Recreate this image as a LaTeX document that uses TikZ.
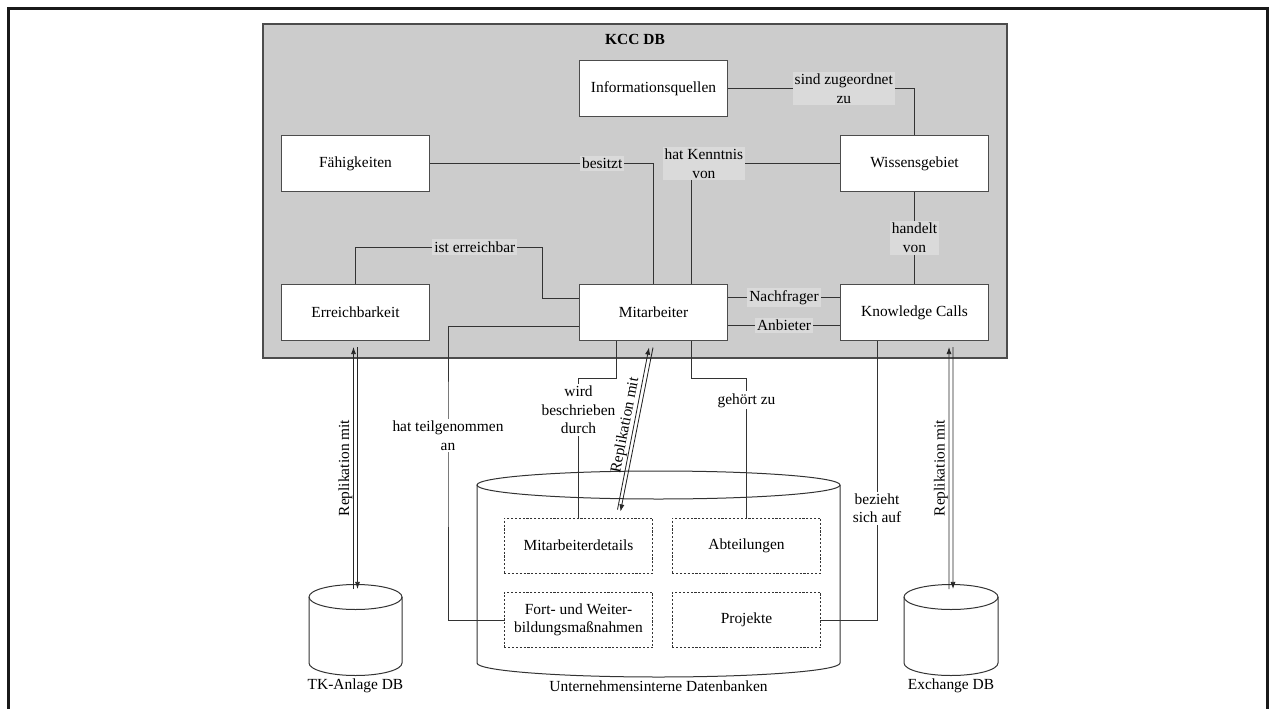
\documentclass[tikz,border=0pt]{standalone}
\usepackage{fontspec}
\setmainfont{Liberation Serif}
\usetikzlibrary{positioning, calc, arrows.meta}

\definecolor{kccgrey}{gray}{0.80}
\definecolor{lblgrey}{gray}{0.855}

\tikzset{
	entity/.style={draw=black!70, line width=0.9pt, rectangle, fill=white, minimum width=104pt, minimum height=39pt, inner sep=2pt},
	dbtable/.style={draw=black!80, line width=0.6pt, dash pattern=on 1.5pt off 1.2pt, rectangle, minimum width=104pt, minimum height=38.5pt, align=center, inner sep=2pt},
	kccbox/.style={draw=black!70, line width=1pt, rectangle, fill=kccgrey, minimum width=520.8pt, minimum height=233.8pt},
	% labels sitting on the connectors
	lbl/.style={fill=lblgrey, inner sep=1.5pt, align=center},
	wlbl/.style={fill=white, inner sep=1.5pt, align=center},
	repl/.style={draw=black!85, line width=0.6pt, ->, >={Latex[length=5pt,width=3.6pt]}},
	repllbl/.style={anchor=south, inner sep=0.5pt},
}

% cylinder: centre x, x radius, top y, bottom y, y radius
\newcommand{\dbcylinder}[5]{%
	\draw[black!80, line width=0.7pt] (#1-#2,#3) -- (#1-#2,#4) arc[start angle=180, end angle=360, x radius=#2, y radius=#5] -- (#1+#2,#3);
	\draw[black!80, line width=0.7pt] (#1,#3) ellipse [x radius=#2, y radius=#5];
}

\begin{document}
\begin{tikzpicture}[x=0.7pt, y=0.7pt, font=\rmfamily\fontsize{10.8}{13}\selectfont]
	\useasboundingbox (0,0) rectangle (1270,708);
	\draw[black!90, line width=2.1pt] (8.5,-10) -- (8.5,699.5) -- (1267.5,699.5) -- (1267.5,-10);

	\node (kccdb) [kccbox] at (635,517) {};
	\node (kcctitle) [font=\rmfamily\bfseries\fontsize{10.8}{13}\selectfont, below=4pt of kccdb.north] {KCC DB};

	\node (info) [entity] at (653.5,619.5) {Informationsquellen};
	\node (faehig) [entity] at (355.5,544.5) {Fähigkeiten};
	\node (wissen) [entity] at (914.5,544.5) {Wissensgebiet};
	\node (erreich) [entity] at (355.5,395.5) {Erreichbarkeit};
	\node (mitarb) [entity] at (653.5,395.5) {Mitarbeiter};
	\node (kcalls) [entity] at (914.5,395.5) {Knowledge Calls};

	% databases
	\dbcylinder{355.5}{46.5}{111}{45}{12.5}
	\dbcylinder{658.5}{181.5}{223}{45}{14}
	\dbcylinder{951}{47}{111}{45}{12.5}
	\coordinate (tkdb) at (355.5,111);
	\coordinate (exdb) at (951,111);
	\node (tkname) at (355.5,22) {TK-Anlage DB};
	\node (intname) at (658.5,22) {Unternehmensinterne Datenbanken};
	\node (exname) at (951,22) {Exchange DB};

	\node (details) [dbtable] at (578.5,162.5) {Mitarbeiterdetails};
	\node (fortbild) [dbtable] at (578.5,88) {Fort- und Weiter-\\bildungsmaßnahmen};
	\node (abteil) [dbtable] at (746.5,162.5) {Abteilungen};
	\node (projekte) [dbtable] at (746.5,88) {Projekte};

	\begin{scope}[draw=black!80, line width=0.6pt]
		\draw (info) -| node[lbl, pos=0.31] {sind zugeordnet\\zu} (wissen);
		\draw (faehig) -| node[lbl, pos=0.385] {besitzt} (mitarb);
		\draw (wissen) -| node[lbl, pos=0.5, xshift=9pt] {hat Kenntnis\\von} ($(mitarb.north)+(37.5,0)$);
		\draw (erreich) |- node[lbl, pos=0.82] {ist erreichbar} (542,461) |- ($(mitarb.west)+(0,14)$);
		\draw (wissen) -- node[lbl] {handelt\\von} (kcalls);
		\draw ($(mitarb.east)+(0,15)$) -- node[lbl] {Nachfrager} ($(kcalls.west)+(0,15)$);
		\draw ($(mitarb.east)+(0,-13)$) -- node[lbl] {Anbieter} ($(kcalls.west)+(0,-13)$);

		\draw ($(mitarb.west)+(0,-14)$) -| (448,272.5) node[wlbl] {hat teilgenommen\\an} |- (fortbild);
		\draw ($(mitarb.south)+(-37.5,0)$) |- (578.5,330) -- node[wlbl, pos=0.23] {wird\\beschrieben\\durch} (details);
		\draw ($(mitarb.south)+(37.5,0)$) |- (746.5,330) -- node[wlbl, pos=0.16] {gehört zu} (abteil);
		\draw ($(kcalls.south)+(-37.5,0)$) |- node[wlbl, pos=0.3] {bezieht\\sich auf} (projekte);
	\end{scope}

	% replication links
	\draw[repl] ($(tkdb)+(-2,8)$) -- node[repllbl, midway, rotate=90] {Replikation mit} ($(erreich.south)+(-2,-6)$);
	\draw[repl] ($(erreich.south)+(2,-6)$) -- ($(tkdb)+(2,8)$);
	\draw[repl] ($(details.north)+(39,8)$) -- node[repllbl, pos=0.51, sloped] {Replikation mit} ($(mitarb.south)+(-4.5,-6.5)$);
	\draw[repl] ($(mitarb.south)+(-0.5,-6.5)$) -- ($(details.north)+(42,6)$);
	\draw[repl] ($(exdb)+(-2,8)$) -- node[repllbl, midway, rotate=90] {Replikation mit} ($(kcalls.south)+(34.5,-6)$);
	\draw[repl] ($(kcalls.south)+(38.5,-6)$) -- ($(exdb)+(2,8)$);
\end{tikzpicture}
\end{document}
